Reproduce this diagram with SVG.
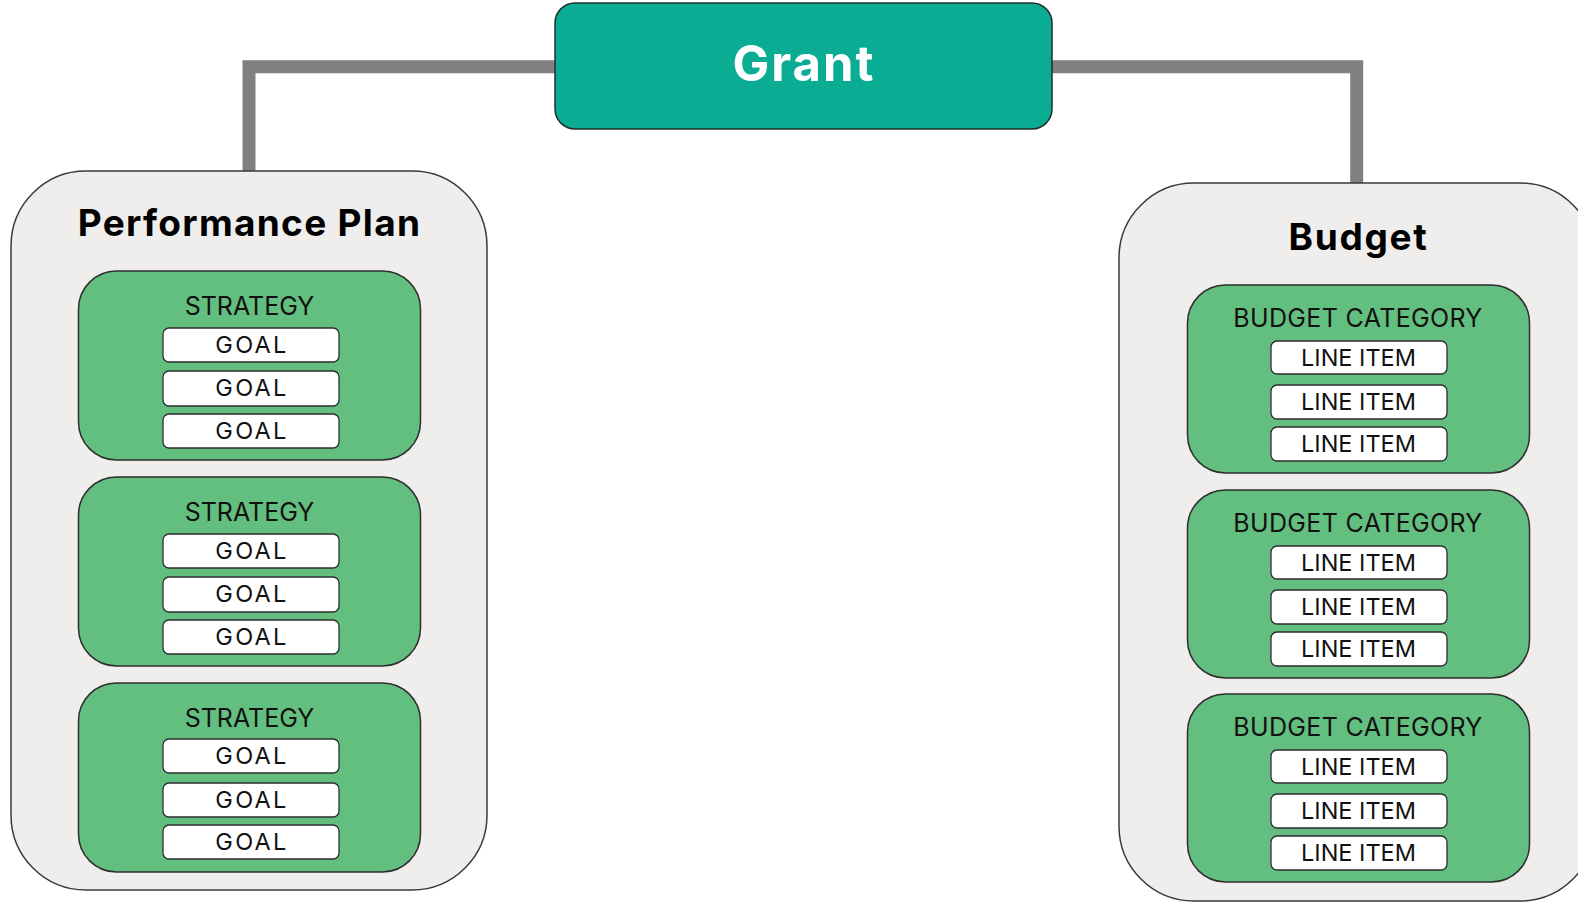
<svg xmlns="http://www.w3.org/2000/svg" width="1578" height="902" viewBox="0 0 1578 902">
<style>
.outer{fill:#EFEEEC;stroke:#3a3a3a;stroke-width:1.5}
.grp{fill:#63BF80;stroke:#2e2e2e;stroke-width:1.5}
.item{fill:#FFFFFF;stroke:#2e2e2e;stroke-width:1.3}
.conn{fill:none;stroke:#808080;stroke-width:13;stroke-linejoin:miter}
.title{font-family:Inter,"Liberation Sans",sans-serif;font-weight:700;font-size:37px;fill:#000;text-anchor:middle;letter-spacing:1.3px}
.hdr{font-family:Inter,"Liberation Sans",sans-serif;font-size:25px;fill:#111;text-anchor:middle}
.hdr2{font-family:Inter,"Liberation Sans",sans-serif;font-size:25px;fill:#111;text-anchor:middle;letter-spacing:0.35px}
.lbl{font-family:Inter,"Liberation Sans",sans-serif;font-size:23.5px;fill:#111;text-anchor:middle}
.goal{letter-spacing:2.3px}
</style>
<rect width="1578" height="902" fill="#FFFFFF"/>
<g id="connectors">
<polyline class="conn" points="556,66.7 249,66.7 249,172"/>
<polyline class="conn" points="1051,66.7 1356.7,66.7 1356.7,184"/>
</g>
<g id="grant">
<rect x="555" y="3" width="497" height="126" rx="20" fill="#0AAD93" stroke="#1f2f2a" stroke-width="1.5"/>
<text x="804" y="81" font-family="Inter,'Liberation Sans',sans-serif" font-weight="700" font-size="49" letter-spacing="2" fill="#FFFFFF" text-anchor="middle">Grant</text>
</g>
<g id="performance-plan">
<rect class="outer" x="11" y="171" width="476" height="719" rx="75"/>
<text class="title" x="249.5" y="236">Performance Plan</text>
</g>
<g id="strategy-1">
<rect class="grp" x="78.5" y="271" width="342" height="189" rx="38"/>
<text class="hdr" x="249.5" y="315">STRATEGY</text>
<rect class="item" x="163" y="328" width="176" height="34" rx="6"/><text class="lbl goal" x="252" y="353">GOAL</text>
<rect class="item" x="163" y="371" width="176" height="35" rx="6"/><text class="lbl goal" x="252" y="396">GOAL</text>
<rect class="item" x="163" y="414" width="176" height="34" rx="6"/><text class="lbl goal" x="252" y="439">GOAL</text>
</g>
<g id="strategy-2">
<rect class="grp" x="78.5" y="477" width="342" height="189" rx="38"/>
<text class="hdr" x="249.5" y="521">STRATEGY</text>
<rect class="item" x="163" y="534" width="176" height="34" rx="6"/><text class="lbl goal" x="252" y="559">GOAL</text>
<rect class="item" x="163" y="577" width="176" height="35" rx="6"/><text class="lbl goal" x="252" y="602">GOAL</text>
<rect class="item" x="163" y="620" width="176" height="34" rx="6"/><text class="lbl goal" x="252" y="645">GOAL</text>
</g>
<g id="strategy-3">
<rect class="grp" x="78.5" y="683" width="342" height="189" rx="38"/>
<text class="hdr" x="249.5" y="727">STRATEGY</text>
<rect class="item" x="163" y="739" width="176" height="34" rx="6"/><text class="lbl goal" x="252" y="764">GOAL</text>
<rect class="item" x="163" y="783" width="176" height="34" rx="6"/><text class="lbl goal" x="252" y="808">GOAL</text>
<rect class="item" x="163" y="825" width="176" height="34" rx="6"/><text class="lbl goal" x="252" y="850">GOAL</text>
</g>
<g id="budget">
<rect class="outer" x="1119" y="183" width="476" height="718" rx="75"/>
<text class="title" x="1358.5" y="250" style="letter-spacing:1.7px">Budget</text>
</g>
<g id="budget-category-1">
<rect class="grp" x="1187.5" y="285" width="342" height="188" rx="38"/>
<text class="hdr2" x="1358" y="327">BUDGET CATEGORY</text>
<rect class="item" x="1271" y="341" width="176" height="33" rx="6"/><text class="lbl" x="1358.5" y="366">LINE ITEM</text>
<rect class="item" x="1271" y="385" width="176" height="34" rx="6"/><text class="lbl" x="1358.5" y="410">LINE ITEM</text>
<rect class="item" x="1271" y="427" width="176" height="34" rx="6"/><text class="lbl" x="1358.5" y="452">LINE ITEM</text>
</g>
<g id="budget-category-2">
<rect class="grp" x="1187.5" y="490" width="342" height="188" rx="38"/>
<text class="hdr2" x="1358" y="532">BUDGET CATEGORY</text>
<rect class="item" x="1271" y="546" width="176" height="33" rx="6"/><text class="lbl" x="1358.5" y="571">LINE ITEM</text>
<rect class="item" x="1271" y="590" width="176" height="34" rx="6"/><text class="lbl" x="1358.5" y="615">LINE ITEM</text>
<rect class="item" x="1271" y="632" width="176" height="34" rx="6"/><text class="lbl" x="1358.5" y="657">LINE ITEM</text>
</g>
<g id="budget-category-3">
<rect class="grp" x="1187.5" y="694" width="342" height="188" rx="38"/>
<text class="hdr2" x="1358" y="736">BUDGET CATEGORY</text>
<rect class="item" x="1271" y="750" width="176" height="33" rx="6"/><text class="lbl" x="1358.5" y="775">LINE ITEM</text>
<rect class="item" x="1271" y="794" width="176" height="34" rx="6"/><text class="lbl" x="1358.5" y="819">LINE ITEM</text>
<rect class="item" x="1271" y="836" width="176" height="34" rx="6"/><text class="lbl" x="1358.5" y="861">LINE ITEM</text>
</g>
</svg>
